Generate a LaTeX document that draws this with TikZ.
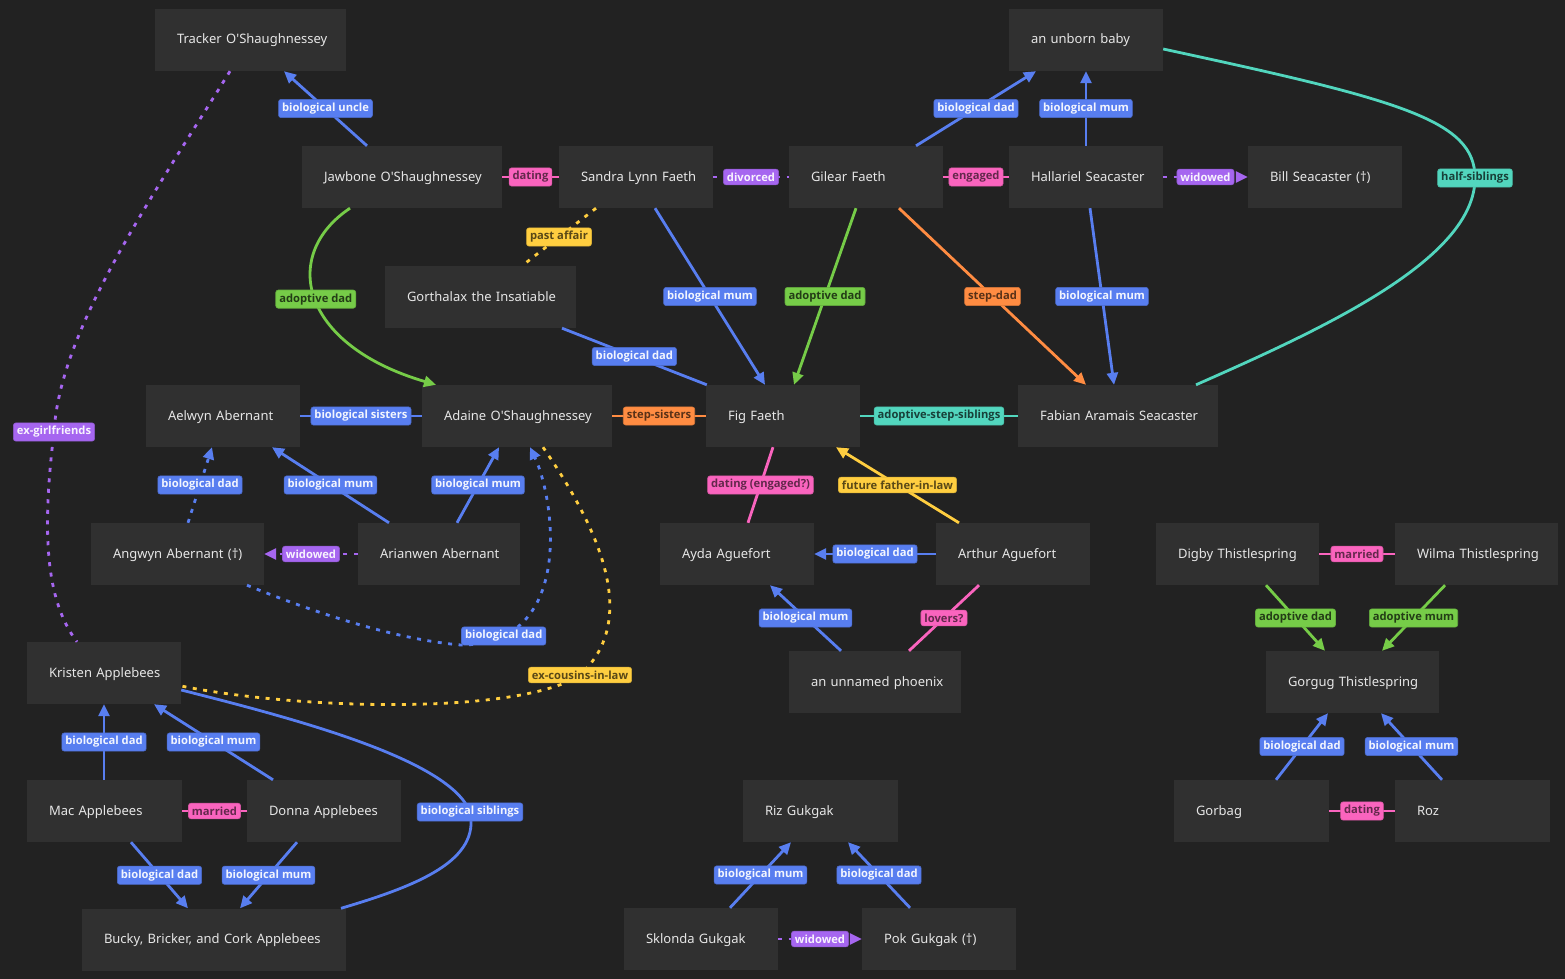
\documentclass[tikz,border=0pt]{standalone}
\usepackage{fontspec}
\newfontfamily\pfont{Noto Sans}
\newfontfamily\lfont{Open Sans}
\usetikzlibrary{arrows.meta}
\definecolor{bg}{RGB}{34,34,34}
\definecolor{nodebg}{RGB}{48,48,48}
\definecolor{ntext}{RGB}{230,230,230}
\definecolor{cblue}{RGB}{88,126,240}
\definecolor{cgreen}{RGB}{118,204,72}
\definecolor{cpink}{RGB}{250,100,190}
\definecolor{cpurple}{RGB}{166,102,240}
\definecolor{corange}{RGB}{255,140,66}
\definecolor{cyellow}{RGB}{255,206,64}
\definecolor{cteal}{RGB}{82,214,190}
\tikzset{
  person/.style={fill=nodebg, text=ntext, minimum height=62pt, inner xsep=22pt, inner ysep=0pt,
    text width=#1, align=left, text height=10pt, text depth=2pt, font=\pfont\fontsize{13}{15}\selectfont},
  rel/.style={line width=2.8pt, draw=#1},
  dots/.style={dash pattern=on 4pt off 6.5pt},
  arr/.style={-{Triangle[length=12pt,width=11pt]}},
  lblbase/.style={solid, fill=#1, draw=#1!85!black, line width=0.6pt, rounded corners=2.5pt,
    inner xsep=3.5pt, inner ysep=3.5pt, font=\lfont\bfseries\fontsize{11.2}{12}\selectfont},
  lblB/.style={lblbase=cblue, text=white!92!cblue},
  lblP/.style={lblbase=cpurple, text=white!92!cpurple},
  lblK/.style={lblbase=cpink, text=cpink!40!black},
  lblG/.style={lblbase=cgreen, text=cgreen!30!black},
  lblO/.style={lblbase=corange, text=corange!35!black},
  lblY/.style={lblbase=cyellow, text=cyellow!35!black},
  lblT/.style={lblbase=cteal, text=cteal!30!black},
}
\begin{document}
\begin{tikzpicture}[x=1pt,y=-1pt]
\fill[bg] (0,0) rectangle (1565,979);
\useasboundingbox (0,0) rectangle (1565,979);

% people
\node[person=147pt] (tracker)   at (250.5,40)  {\mbox{Tracker O'Shaughnessey}};
\node[person=110pt] (baby)      at (1086,40)   {\mbox{an unborn baby}};
\node[person=156pt] (jawbone)   at (402,177)   {\mbox{Jawbone O'Shaughnessey}};
\node[person=110pt] (sandra)    at (636,177)   {\mbox{Sandra Lynn Faeth}};
\node[person=110pt] (gilear)    at (866,177)   {\mbox{Gilear Faeth}};
\node[person=110pt] (hallariel) at (1086,177)  {\mbox{Hallariel Seacaster}};
\node[person=110pt] (bill)      at (1325,177)  {\mbox{Bill Seacaster (†)}};
\node[person=147pt] (gorthalax) at (480.5,297) {\mbox{Gorthalax the Insatiable}};
\node[person=110pt] (aelwyn)    at (223,416)   {\mbox{Aelwyn Abernant}};
\node[person=146pt] (adaine)    at (517,416)   {\mbox{Adaine O'Shaughnessey}};
\node[person=110pt] (fig)       at (783,416)   {\mbox{Fig Faeth}};
\node[person=156pt] (fabian)    at (1118,416)  {\mbox{Fabian Aramais Seacaster}};
\node[person=129pt] (angwyn)    at (177.5,554) {\mbox{Angwyn Abernant (†)}};
\node[person=118pt] (arianwen)  at (439,554)   {\mbox{Arianwen Abernant}};
\node[person=110pt] (ayda)      at (737,554)   {\mbox{Ayda Aguefort}};
\node[person=110pt] (arthur)    at (1013,554)  {\mbox{Arthur Aguefort}};
\node[person=119pt] (digby)     at (1237.5,554){\mbox{Digby Thistlespring}};
\node[person=119pt] (wilma)     at (1476.5,554){\mbox{Wilma Thistlespring}};
\node[person=128pt] (phoenix)   at (875,682)   {\mbox{an unnamed phoenix}};
\node[person=129pt] (gorgug)    at (1352.5,682){\mbox{Gorgug Thistlespring}};
\node[person=110pt] (kristen)   at (104,673)   {\mbox{Kristen Applebees}};
\node[person=111pt] (mac)       at (104.5,811) {\mbox{Mac Applebees}};
\node[person=110pt] (donna)     at (324,811)   {\mbox{Donna Applebees}};
\node[person=220pt] (bucky)     at (214,939.5) {\mbox{Bucky, Bricker, and Cork Applebees}};
\node[person=111pt] (riz)       at (820.5,811) {\mbox{Riz Gukgak}};
\node[person=110pt] (sklonda)   at (701,939)   {\mbox{Sklonda Gukgak}};
\node[person=110pt] (pok)       at (939,939)   {\mbox{Pok Gukgak (†)}};
\node[person=111pt] (gorbag)    at (1251.5,811){\mbox{Gorbag}};
\node[person=111pt] (roz)       at (1472.5,811){\mbox{Roz}};

% relations
\draw[rel=cblue,arr] ([xshift=-35pt]jawbone.north) -- node[lblB]{biological uncle} ([xshift=33.5pt]tracker.south);
\draw[rel=cpink] (jawbone.east) -- node[lblK]{dating} (sandra.west);
\draw[rel=cpurple,dots] (sandra.east) -- node[lblP]{divorced} (gilear.west);
\draw[rel=cpink] (gilear.east) -- node[lblK]{engaged} (hallariel.west);
\draw[rel=cpurple,dots,arr] (hallariel.east) -- node[lblP]{widowed} (bill.west);
\draw[rel=cblue,arr] ([xshift=50pt]gilear.north) -- node[lblB]{biological dad} ([xshift=-50pt]baby.south);
\draw[rel=cblue,arr] (hallariel.north) -- node[lblB]{biological mum} (baby.south);
\draw[rel=cteal] ([yshift=-9pt]baby.east) .. controls (1400,100) and (1475,120) .. (1475,178) node[lblT]{half-siblings}
   .. controls (1475,260) and (1320,330) .. ([xshift=78pt]fabian.north);
\draw[rel=cyellow,dots] ([xshift=-40pt]sandra.south) -- node[lblY]{past affair} ([xshift=41.5pt]gorthalax.north);
\draw[rel=cgreen,arr] ([xshift=-52pt]jawbone.south) .. controls (280,255) and (300,345) .. node[lblG,pos=0.5]{adoptive dad} ([xshift=-81pt]adaine.north);
\draw[rel=cblue,arr] ([xshift=19pt]sandra.south) -- node[lblB]{biological mum} ([xshift=-18pt]fig.north);
\draw[rel=cgreen,arr] ([xshift=-10pt]gilear.south) -- node[lblG]{adoptive dad} ([xshift=11pt]fig.north);
\draw[rel=corange,arr] ([xshift=33pt]gilear.south) -- node[lblO]{step-dad} ([xshift=-32pt]fabian.north);
\draw[rel=cblue,arr] ([xshift=4pt]hallariel.south) -- node[lblB]{biological mum} ([xshift=-4pt]fabian.north);
\draw[rel=cblue] ([xshift=81.5pt]gorthalax.south) -- node[lblB]{biological dad} ([xshift=1pt]fig.north west);
\draw[rel=cblue] (aelwyn.east) -- node[lblB]{biological sisters} (adaine.west);
\draw[rel=corange] (adaine.east) -- node[lblO]{step-sisters} (fig.west);
\draw[rel=cteal] (fig.east) -- node[lblT]{adoptive-step-siblings} (fabian.west);
\draw[rel=cblue,dots,arr] ([xshift=10.5pt]angwyn.north) -- node[lblB]{biological dad} ([xshift=-11pt]aelwyn.south);
\draw[rel=cblue,arr] ([xshift=-50pt]arianwen.north) -- node[lblB]{biological mum} ([xshift=49pt]aelwyn.south);
\draw[rel=cblue,arr] ([xshift=18pt]arianwen.north) -- node[lblB]{biological mum} ([xshift=-18pt]adaine.south);
\draw[rel=cpurple,dots,arr] (arianwen.west) -- node[lblP]{widowed} (angwyn.east);
\draw[rel=cblue,dots,arr] ([xshift=69.5pt]angwyn.south) .. controls (320,615) and (400,640) .. (461,645)
   .. controls (575,645) and (555,500) .. node[lblB,pos=0.15]{biological dad} ([xshift=13pt]adaine.south);
\draw[rel=cyellow,dots] ([xshift=26pt]adaine.south) .. controls (600,530) and (640,620) .. (580,675) node[lblY]{ex-cousins-in-law}
   .. controls (520,715) and (300,710) .. ([yshift=-13pt]kristen.east);
\draw[rel=cpurple,dots] ([xshift=-20.5pt]tracker.south) .. controls (150,200) and (60,330) .. (54,432) node[lblP]{ex-girlfriends}
   .. controls (42,530) and (45,600) .. ([xshift=-27pt]kristen.north);
\draw[rel=cpink] ([xshift=11pt]ayda.north) -- node[lblK]{dating (engaged?)} ([xshift=-10pt]fig.south);
\draw[rel=cyellow,arr] ([xshift=-54pt]arthur.north) -- node[lblY]{future father-in-law} ([xshift=53pt]fig.south);
\draw[rel=cblue,arr] (arthur.west) -- node[lblB]{biological dad} (ayda.east);
\draw[rel=cblue,arr] ([xshift=-34pt]phoenix.north) -- node[lblB]{biological mum} ([xshift=33pt]ayda.south);
\draw[rel=cpink] ([xshift=34pt]phoenix.north) -- node[lblK]{lovers?} ([xshift=-34pt]arthur.south);
\draw[rel=cpink] (digby.east) -- node[lblK]{married} (wilma.west);
\draw[rel=cgreen,arr] ([xshift=28.5pt]digby.south) -- node[lblG]{adoptive dad} ([xshift=-27.5pt]gorgug.north);
\draw[rel=cgreen,arr] ([xshift=-31.5pt]wilma.south) -- node[lblG]{adoptive mum} ([xshift=29.5pt]gorgug.north);
\draw[rel=cblue,arr] ([xshift=24.5pt]gorbag.north) -- node[lblB]{biological dad} ([xshift=-24.5pt]gorgug.south);
\draw[rel=cblue,arr] ([xshift=-30.5pt]roz.north) -- node[lblB]{biological mum} ([xshift=28.5pt]gorgug.south);
\draw[rel=cpink] (gorbag.east) -- node[lblK]{dating} (roz.west);
\draw[rel=cblue,arr] ([xshift=-0.5pt]mac.north) -- node[lblB]{biological dad} (kristen.south);
\draw[rel=cblue,arr] ([xshift=-51pt]donna.north) -- node[lblB]{biological mum} ([xshift=50pt]kristen.south);
\draw[rel=cpink] (mac.east) -- node[lblK]{married} (donna.west);
\draw[rel=cblue,arr] ([xshift=26.5pt]mac.south) -- node[lblB]{biological dad} ([xshift=-26pt]bucky.north);
\draw[rel=cblue,arr] ([xshift=-27pt]donna.south) -- node[lblB]{biological mum} ([xshift=26pt]bucky.north);
\draw[rel=cblue] ([yshift=-17pt]kristen.east) .. controls (300,720) and (450,760) .. (470,812) node[lblB]{biological siblings}
   .. controls (480,860) and (420,885) .. ([xshift=127pt]bucky.north);
\draw[rel=cblue,arr] ([xshift=29pt]sklonda.north) -- node[lblB]{biological mum} ([xshift=-29.5pt]riz.south);
\draw[rel=cblue,arr] ([xshift=-29pt]pok.north) -- node[lblB]{biological dad} ([xshift=27.5pt]riz.south);
\draw[rel=cpurple,dots,arr] (sklonda.east) -- node[lblP]{widowed} (pok.west);
\end{tikzpicture}
\end{document}
